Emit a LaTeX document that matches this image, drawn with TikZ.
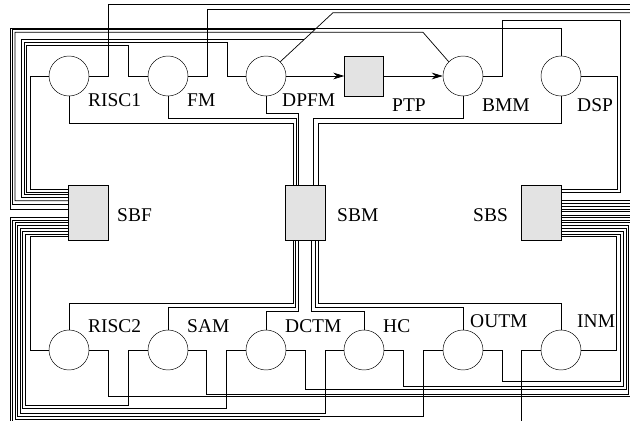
\documentclass[tikz,border=0pt]{standalone}
\usepackage{fontspec}
\setmainfont{Liberation Serif}
\usetikzlibrary{arrows.meta,positioning,calc}
\definecolor{sbGray}{HTML}{E3E3E3}
\tikzset{
  module/.style={draw, circle, minimum size=1.2cm, inner sep=0pt},
  swbox/.style={draw, fill=sbGray, minimum width=1.2cm, minimum height=1.65cm, inner sep=0pt},
  ptpbox/.style={swbox, minimum width=1.17cm, minimum height=1.2cm},
  wire/.style={line width=0.6pt},
  flow/.style={wire, -{Stealth[length=3.3mm, width=2mm]}},
  tag/.style={font=\fontsize{16.6}{19}\selectfont, inner sep=0pt, anchor=base west}
}
\begin{document}
\begin{tikzpicture}[x=0.03cm, y=-0.03cm]
  \useasboundingbox (0,0) rectangle (630,421);
  % top row
  \node[module] (risc1) at (69,76) {};
  \node[module] (fm) at (168,76) {};
  \node[module] (dpfm) at (266,76) {};
  \node[ptpbox] (ptp) at (364,76) {};
  \node[module] (bmm) at (463,76) {};
  \node[module] (dsp) at (561,76) {};
  % switch boxes
  \node[swbox] (sbf) at (88,212.5) {};
  \node[swbox] (sbm) at (305,212.5) {};
  \node[swbox] (sbs) at (541.5,212.5) {};
  % bottom row
  \node[module] (risc2) at (69,350) {};
  \node[module] (sam) at (168,350) {};
  \node[module] (dctm) at (266,350) {};
  \node[module] (hc) at (364,350) {};
  \node[module] (outm) at (463,350) {};
  \node[module] (inm) at (561,350) {};
  % labels
  \node[tag] (risc1l) at (88,107) {RISC1};
  \node[tag] (fml) at (187,107) {FM};
  \node[tag] (dpfml) at (282,107) {DPFM};
  \node[tag] (ptpl) at (392,111) {PTP};
  \node[tag] (bmml) at (482,111) {BMM};
  \node[tag] (dspl) at (577,111) {DSP};
  \node[tag] (sbfl) at (117,221) {SBF};
  \node[tag] (sbml) at (337,221) {SBM};
  \node[tag] (sbsl) at (473,221) {SBS};
  \node[tag] (risc2l) at (88,332) {RISC2};
  \node[tag] (saml) at (187,332) {SAM};
  \node[tag] (dctml) at (285,332) {DCTM};
  \node[tag] (hcl) at (383,332) {HC};
  \node[tag] (outml) at (470,327) {OUTM};
  \node[tag] (inml) at (577,327) {INM};
  % data path
  \draw[flow] (dpfm.east) -- (ptp.west);
  \draw[flow] (ptp.east) -- (bmm.west);
  % diagonal from DPFM, with its two branches to SBF
  \draw[wire] (dpfm.north east) -- (333,12.7) coordinate (dpk) -- (630,12.7);
  \coordinate (dpa) at ($(dpfm.north east)!0.66!(dpk)$);
  \coordinate (dpb) at ($(dpfm.north east)!0.45!(dpk)$);
  % top row to SBF
  \draw[wire] (risc1.west) -| (30,189.3) -- (sbf.west |- 0,189.3);
  \draw[wire] (fm.west) -| (128,45) -| (26.7,192) -- (sbf.west |- 0,192);
  \draw[wire] (dpfm.west) -| (227,42.3) -| (24,194.7) -- (sbf.west |- 0,194.7);
  \draw[wire] (dpb) -- (dpb -| 21.7,0) -- (21.7,197.7) -- (sbf.west |- 0,197.7);
  \draw[wire] (bmm.north west) -- (423,32.3) -| (15,200.7) -- (sbf.west |- 0,200.7);
  \draw[wire] (dpa) -- (dpa -| 12.3,0) -- (12.3,204) -- (sbf.west |- 0,204);
  \draw[wire] (dsp.north) |- (10,28.3) -- (10,209) -- (sbf.west |- 0,209);
  % top row to SBM
  \draw[wire] (risc1.south) |- (293.3,123.3) -- (sbm.north -| 293.3,0);
  \draw[wire] (fm.south) |- (296,118.3) -- (sbm.north -| 296,0);
  \draw[wire] (dpfm.south) |- (298.7,113.3) -- (sbm.north -| 298.7,0);
  \draw[wire] (bmm.south) |- (313.3,118.3) -- (sbm.north -| 313.3,0);
  \draw[wire] (dsp.south) |- (318.3,123.3) -- (sbm.north -| 318.3,0);
  % top row to SBS
  \draw[wire] (risc1.east) -| (108,4.3) -- (630,4.3);
  \draw[wire] (fm.east) -| (207,9) -- (630,9);
  \draw[wire] (bmm.east) -| (502,20) -| (620,192) -- (sbs.east |- 0,192);
  \draw[wire] (dsp.east) -| (617.3,189.3) -- (sbs.east |- 0,189.3);
  \foreach \yy in {200.7,203.3,206,209,211.7,215}
    \draw[wire] (sbs.east |- 0,\yy) -- (630,\yy);
  % bottom row to SBF
  \draw[wire] (risc2.west) -| (30,236.7) -- (sbf.west |- 0,236.7);
  \draw[wire] (sam.west) -| (128.3,405) -| (25,234) -- (sbf.west |- 0,234);
  \draw[wire] (dctm.west) -| (226.7,408.3) -| (22.3,231) -- (sbf.west |- 0,231);
  \draw[wire] (hc.west) -| (325,413.3) -| (20,228.3) -- (sbf.west |- 0,228.3);
  \draw[wire] (outm.west) -| (423,416.7) -| (17.3,225.7) -- (sbf.west |- 0,225.7);
  \draw[wire] (inm.west) -| (521.7,421);
  \draw[wire] (320,419.3) -| (15,222.7) -- (sbf.west |- 0,222.7);
  \draw[wire] (12.3,421) -- (12.3,220) -- (sbf.west |- 0,220);
  \draw[wire] (10,421) -- (10,217.3) -- (sbf.west |- 0,217.3);
  % bottom row to SBM
  \draw[wire] (risc2.north) |- (293.3,303.3) -- (sbm.south -| 293.3,0);
  \draw[wire] (sam.north) |- (295.7,307.3) -- (sbm.south -| 295.7,0);
  \draw[wire] (dctm.north) |- (298.3,311.7) -- (sbm.south -| 298.3,0);
  \draw[wire] (hc.north) |- (311,311.7) -- (sbm.south -| 311,0);
  \draw[wire] (outm.north) |- (315.7,307.3) -- (sbm.south -| 315.7,0);
  \draw[wire] (inm.north) |- (318.3,303.3) -- (sbm.south -| 318.3,0);
  % bottom row to SBS
  \draw[wire] (inm.east) -| (616.7,236.7) -- (sbs.east |- 0,236.7);
  \draw[wire] (outm.east) -| (502,381.7) -| (620,234) -- (sbs.east |- 0,234);
  \draw[wire] (hc.east) -| (403,386) -| (623.3,231) -- (sbs.east |- 0,231);
  \draw[wire] (dctm.east) -| (305,389.3) -| (626.7,228.3) -- (sbs.east |- 0,228.3);
  \draw[wire] (sam.east) -| (206.7,394) -| (628.3,225.7) -- (sbs.east |- 0,225.7);
  \draw[wire] (risc2.east) -| (108.3,396.7) -- (630,396.7);
  \foreach \yy in {217.3,220,222.7}
    \draw[wire] (sbs.east |- 0,\yy) -- (630,\yy);
\end{tikzpicture}
\end{document}
